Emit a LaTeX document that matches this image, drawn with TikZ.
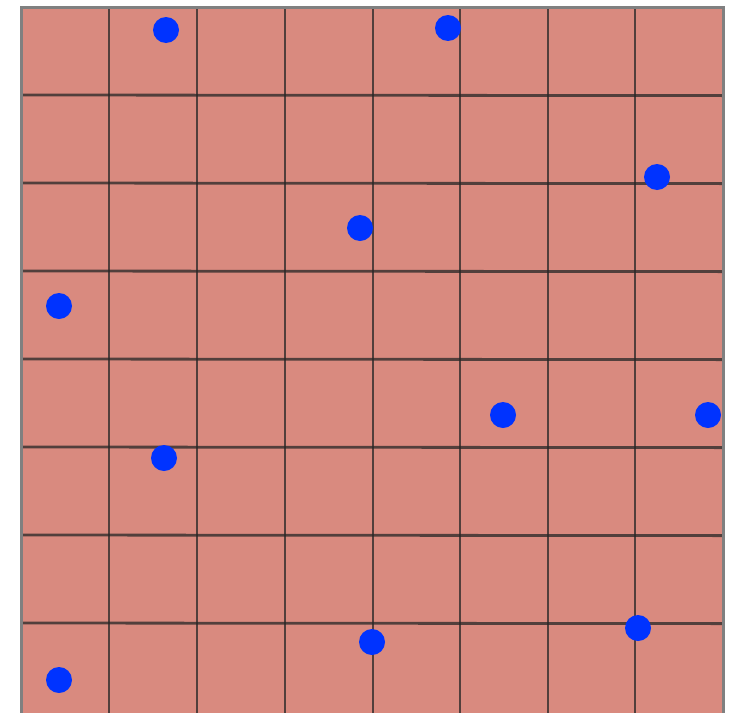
\documentclass[tikz,border=0pt]{standalone}
\begin{document}
\begin{tikzpicture}[x=1pt,y=-1pt,
  gridline/.style={draw=black!85,line width=2.8pt,opacity=0.75},
  dot/.style={circle,fill={rgb,255:red,0;green,51;blue,255},inner sep=0pt,minimum size=26pt}]
\useasboundingbox (0,0) rectangle (746,712);
\begin{scope}
\clip (0,0) rectangle (746,712);
\fill[fill={rgb,255:red,217;green,138;blue,127}] (21,7) rectangle (723,716);
\foreach \x in {109,197,285,373,460,548,635} \draw[gridline] (\x,7) -- (\x,716);
\foreach \y in {95,183,271,359,447,535,623} \draw[gridline] (21,\y) -- (723,\y+0.6);
\draw[draw=black!50,line width=3pt] (21,716) -- (21,7) -- (723,7) -- (723,716);
\end{scope}
\node[dot] (d1) at (166,30) {};
\node[dot] (d2) at (448,28) {};
\node[dot] (d3) at (657,177) {};
\node[dot] (d4) at (360,228) {};
\node[dot] (d5) at (59,306) {};
\node[dot] (d6) at (503,415) {};
\node[dot] (d7) at (708,415) {};
\node[dot] (d8) at (164,458) {};
\node[dot] (d9) at (372,642) {};
\node[dot] (d10) at (638,628) {};
\node[dot] (d11) at (59,680) {};
\end{tikzpicture}
\end{document}
